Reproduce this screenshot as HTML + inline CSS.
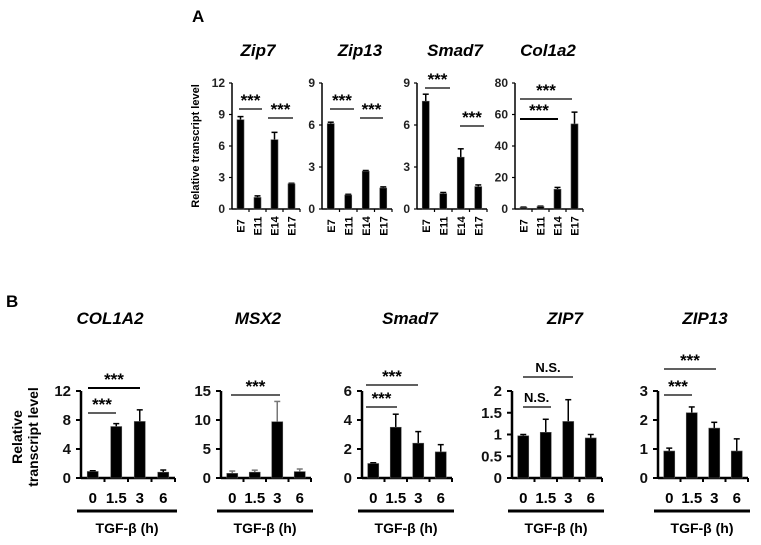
<!DOCTYPE html>
<html><head><meta charset="utf-8">
<style>
body{margin:0;background:#fff;}
svg{display:block;font-family:"Liberation Sans",Arial,sans-serif;}
</style></head>
<body>
<svg id="fig" width="761" height="545" viewBox="0 0 761 545">
<text x="192" y="22" font-size="17" font-weight="bold">A</text>
<text x="6" y="307" font-size="17" font-weight="bold">B</text>
<text transform="translate(199,146) rotate(-90)" text-anchor="middle" font-size="11" font-weight="bold">Relative transcript level</text>
<text transform="translate(22,437) rotate(-90)" text-anchor="middle" font-size="14" font-weight="bold">Relative</text>
<text transform="translate(38,437) rotate(-90)" text-anchor="middle" font-size="14" font-weight="bold">transcript level</text>
</svg>
<script>
// Panel A data
const catsA = ["E7","E11","E14","E17"];
const zip7Vals = [8.5,1.1,6.6,2.4];
const zip7Err = [0.3,0.15,0.7,0.05];
const zip7Ticks = [0,3,6,9,12];
const zip13Vals = [6.1,1.0,2.7,1.5];
const zip13Err = [0.1,0.05,0.05,0.08];
const zip13Ticks = [0,3,6,9];
const smad7AVals = [7.7,1.1,3.7,1.6];
const smad7AErr = [0.5,0.08,0.6,0.12];
const smad7ATicks = [0,3,6,9];
const col1a2Vals = [1,1.5,12.5,54];
const col1a2Err = [0.2,0.3,1.2,7.5];
const col1a2Ticks = [0,20,40,60,80];
// Panel B data
const catsB = ["0","1.5","3","6"];
const col1a2BVals = [0.9,7.1,7.8,0.8];
const col1a2BErr = [0.1,0.4,1.6,0.3];
const col1a2BTicks = [0,4,8,12];
const msx2Vals = [0.8,1.0,9.7,1.1];
const msx2Err = [0.4,0.35,3.5,0.45];
const msx2Ticks = [0,5,10,15];
const smad7BVals = [1.0,3.5,2.4,1.8];
const smad7BErr = [0.05,0.9,0.8,0.5];
const smad7BTicks = [0,2,4,6];
const zip7BVals = [0.97,1.05,1.3,0.92];
const zip7BErr = [0.03,0.3,0.5,0.08];
const zip7BTicks = [0,0.5,1,1.5,2];
const zip7BTickLabels = ["0","0.5","1","1.5","2"];
const zip13BVals = [0.93,2.25,1.72,0.93];
const zip13BErr = [0.1,0.2,0.2,0.42];
const zip13BTicks = [0,1,2,3];

const NS = "http://www.w3.org/2000/svg";
const svg = document.getElementById('fig');
function mk(tag, attrs, parent){
  const e = document.createElementNS(NS, tag);
  for (const k in attrs) e.setAttribute(k, attrs[k]);
  (parent||svg).appendChild(e);
  return e;
}
function txt(x,y,s,attrs){const t=mk('text',Object.assign({x:x,y:y},attrs));t.textContent=s;return t;}

const panels = [
 {name:"zip7",title:"Zip7",tx:258,ty:56,ax:232,w:68,top:83,bot:209,max:12,vals:zip7Vals,err:zip7Err,ticks:zip7Ticks,cats:catsA,kind:"A",
  sig:[{x1:239,x2:262,y:109,t:"***"},{x1:268,x2:293,y:118,t:"***"}]},
 {name:"zip13",title:"Zip13",tx:360,ty:56,ax:322,w:70,top:83,bot:209,max:9,vals:zip13Vals,err:zip13Err,ticks:zip13Ticks,cats:catsA,kind:"A",
  sig:[{x1:330,x2:354,y:109,t:"***"},{x1:360,x2:383,y:118,t:"***"}]},
 {name:"smad7-a",title:"Smad7",tx:455,ty:56,ax:417,w:70,top:83,bot:209,max:9,vals:smad7AVals,err:smad7AErr,ticks:smad7ATicks,cats:catsA,kind:"A",
  sig:[{x1:425,x2:450,y:88,t:"***"},{x1:460,x2:484,y:126,t:"***"}]},
 {name:"col1a2-a",title:"Col1a2",tx:548,ty:56,ax:515,w:68,top:83,bot:209,max:80,vals:col1a2Vals,err:col1a2Err,ticks:col1a2Ticks,cats:catsA,kind:"A",
  sig:[{x1:520,x2:572,y:99,t:"***"},{x1:520,x2:558,y:119,t:"***",thick:true}]},
 {name:"col1a2-b",title:"COL1A2",tx:110,ty:324,ax:81,w:94,top:391,bot:478,max:12,vals:col1a2BVals,err:col1a2BErr,ticks:col1a2BTicks,cats:catsB,kind:"B",
  sig:[{x1:88,x2:140,y:388,t:"***",thick:true},{x1:88,x2:116,y:413,t:"***"}]},
 {name:"msx2",title:"MSX2",tx:258,ty:324,ax:221,w:90,top:391,bot:478,max:15,vals:msx2Vals,err:msx2Err,ticks:msx2Ticks,cats:catsB,kind:"B",gray:true,
  sig:[{x1:231,x2:280,y:395,t:"***"}]},
 {name:"smad7-b",title:"Smad7",tx:410,ty:324,ax:362,w:90,top:391,bot:478,max:6,vals:smad7BVals,err:smad7BErr,ticks:smad7BTicks,cats:catsB,kind:"B",
  sig:[{x1:366,x2:418,y:385,t:"***"},{x1:366,x2:397,y:407,t:"***"}]},
 {name:"zip7-b",title:"ZIP7",tx:565,ty:324,ax:512,w:90,top:391,bot:478,max:2,vals:zip7BVals,err:zip7BErr,ticks:zip7BTicks,tickLabels:zip7BTickLabels,cats:catsB,kind:"B",
  sig:[{x1:523,x2:573,y:377,t:"N.S."},{x1:523,x2:551,y:407,t:"N.S."}]},
 {name:"zip13-b",title:"ZIP13",tx:705,ty:324,ax:658,w:90,top:391,bot:478,max:3,vals:zip13BVals,err:zip13BErr,ticks:zip13BTicks,cats:catsB,kind:"B",
  sig:[{x1:664,x2:716,y:369,t:"***"},{x1:664,x2:692,y:395,t:"***"}]}
];

panels.forEach(p=>{
  const g = mk('g',{});
  
  
  const A = p.kind==="A";
  const y = v => p.bot - (v/p.max)*(p.bot-p.top);
  const step = p.w/p.cats.length;
  const xc = i => p.ax + step*(i+0.5);
  const t = txt(p.tx,p.ty,p.title,{'text-anchor':'middle','font-size':17,'font-weight':'bold','font-style':'italic'});
  g.appendChild(t);
  
  
  const ya = mk('line',{x1:p.ax,x2:p.ax,y1:p.top,y2:p.bot,stroke:'#000','stroke-width':A?1.5:2.5},g);
  
  
  const xa = mk('line',{x1:p.ax,x2:p.ax+p.w,y1:p.bot,y2:p.bot,stroke:'#000','stroke-width':A?1.5:2.5},g);
  
  
  p.ticks.forEach((v,i)=>{
    mk('line',{x1:p.ax-(A?3:5),x2:p.ax,y1:y(v),y2:y(v),stroke:'#000','stroke-width':A?1.2:2},g);
    const lab = p.tickLabels ? p.tickLabels[i] : String(v);
    const tl = txt(p.ax-(A?7:10), y(v)+(A?4:5), lab, {'text-anchor':'end','font-size':A?12:15,'font-weight':'bold',fill:A?'#222':'#111'});
    g.appendChild(tl);
    
    
  });
  for(let i=1;i<=p.cats.length;i++){
    mk('line',{x1:p.ax+step*i,x2:p.ax+step*i,y1:p.bot,y2:p.bot+(A?3:4),stroke:'#000','stroke-width':A?1.2:2},g);
  }
  const bw = A?7:11;
  p.vals.forEach((v,i)=>{
    const x = xc(i);
    const e = p.err[i];
    const col = p.gray ? '#777' : '#000';
    const el = mk('line',{x1:x,x2:x,y1:y(v),y2:y(v+e),stroke:col,'stroke-width':1.5},g);
    
    
    mk('line',{x1:x-3,x2:x+3,y1:y(v+e),y2:y(v+e),stroke:col,'stroke-width':1.5},g);
    const b = mk('rect',{x:x-bw/2,y:y(v),width:bw,height:p.bot-y(v),fill:'#000',stroke:'#555','stroke-width':0.6},g);
    
    
    if(A){
      const cl = txt(0,0,p.cats[i],{'font-size':11,'font-weight':'bold',transform:`translate(${x+4},${p.bot+17}) rotate(-90)`,'text-anchor':'middle'});
      g.appendChild(cl);
      
      
    } else {
      const cl = txt(x,p.bot+25,p.cats[i],{'font-size':15,'font-weight':'bold','text-anchor':'middle'});
      g.appendChild(cl);
      
      
    }
  });
  if(!A){
    const ul = mk('line',{x1:p.ax-4,x2:p.ax+p.w+2,y1:511,y2:511,stroke:'#000','stroke-width':3},g);
    
    
    const tg = txt(p.ax+p.w/2-1,533,'TGF-β (h)',{'font-size':14,'font-weight':'bold','text-anchor':'middle'});
    g.appendChild(tg);
    
    
  }
  p.sig.forEach(s=>{
    const sl = mk('line',{x1:s.x1,x2:s.x2,y1:s.y,y2:s.y,stroke:'#000','stroke-width':s.thick?2:1.3},g);
    
    
    const ns = s.t==="N.S.";
    const st = txt(ns?s.x1+1:(s.x1+s.x2)/2, s.y-(ns?5:3), s.t, {'font-size':ns?13:17,'font-weight':'bold','text-anchor':ns?'start':'middle'});
    if(ns && s.x2-s.x1>40){ st.setAttribute('x',(s.x1+s.x2)/2); st.setAttribute('text-anchor','middle'); }
    g.appendChild(st);
    
    
  });
});
</script>
</body></html>
